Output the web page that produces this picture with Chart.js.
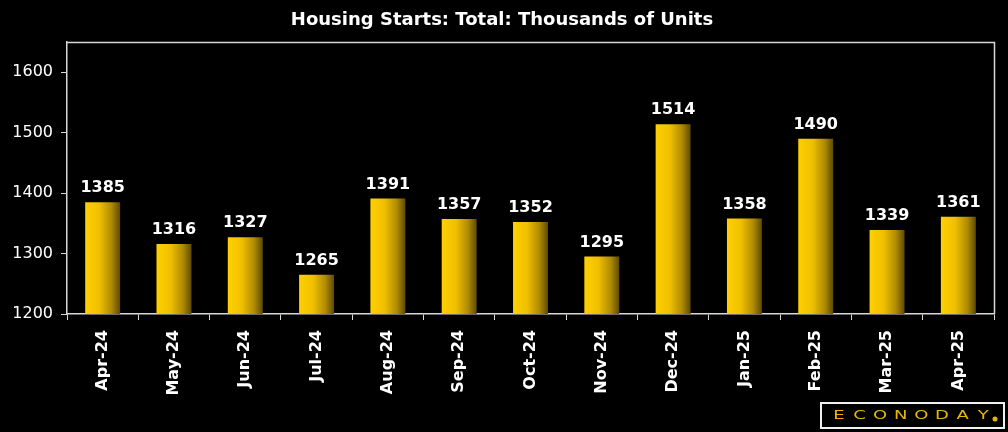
<!DOCTYPE html>
<html>
<head>
<meta charset="utf-8">
<script src="https://cdn.jsdelivr.net/npm/chart.js@4.4.1/dist/chart.umd.min.js"></script>
<style>
  html, body { margin: 0; padding: 0; background: #000; }
  #wrap { width: 1008px; height: 432px; position: relative; }
</style>
</head>
<body>
<div id="wrap"><canvas id="barchart" width="1008" height="432"></canvas></div>
<script>
var months = ['Apr-24', 'May-24', 'Jun-24', 'Jul-24', 'Aug-24', 'Sep-24', 'Oct-24',
              'Nov-24', 'Dec-24', 'Jan-25', 'Feb-25', 'Mar-25', 'Apr-25'];
var starts = [1385, 1316, 1327, 1265, 1391, 1357, 1352, 1295, 1514, 1358, 1490, 1339, 1361];
var yTicks = [1200, 1300, 1400, 1500, 1600];
var title = 'Housing Starts: Total: Thousands of Units';

var FONT = '"DejaVu Sans", sans-serif';
var LINE = '#d8d8d8';

function barFill(c) {
  var chart = c.chart;
  var xs = chart.scales.x;
  if (!xs || !chart.chartArea) return '#e8b800';
  var cx = xs.getPixelForValue(c.dataIndex);
  var half = (xs.width / months.length) * 0.49 / 2;
  var g = chart.ctx.createLinearGradient(cx - half, 0, cx + half, 0);
  g.addColorStop(0, '#ffd000');
  g.addColorStop(0.4, '#f0c000');
  g.addColorStop(0.75, '#b08c00');
  g.addColorStop(1, '#5e4b00');
  return g;
}

var extras = {
  id: 'extras',
  afterDraw: function(chart) {
    var ctx = chart.ctx, a = chart.chartArea;
    ctx.save();
    // frame top + right
    ctx.strokeStyle = LINE;
    ctx.lineWidth = 1.5;
    ctx.beginPath();
    ctx.moveTo(a.left, a.top + 0.5);
    ctx.lineTo(a.right + 0.5, a.top + 0.5);
    ctx.lineTo(a.right + 0.5, a.bottom);
    ctx.stroke();

    // title
    ctx.fillStyle = '#fff';
    ctx.font = 'bold 18px ' + FONT;
    ctx.textAlign = 'center';
    ctx.textBaseline = 'middle';
    ctx.fillText(title, 502, 20);

    // value labels
    var meta = chart.getDatasetMeta(0);
    ctx.font = 'bold 16px ' + FONT;
    ctx.textBaseline = 'bottom';
    meta.data.forEach(function(bar, i) {
      ctx.fillText(String(starts[i]), bar.x, bar.y - 6);
    });

    // logo
    ctx.strokeStyle = '#f0f0f0';
    ctx.lineWidth = 2;
    ctx.strokeRect(821, 403, 183, 25);
    ctx.fillStyle = '#e8b800';
    ctx.font = '12px ' + FONT;
    ctx.textAlign = 'center';
    ctx.textBaseline = 'middle';
    var word = 'ECONODAY';
    for (var k = 0; k < word.length; k++) {
      ctx.save();
      ctx.translate(839 + k * 20.6, 416);
      ctx.scale(1.5, 1);
      ctx.fillText(word[k], 0, 0);
      ctx.restore();
    }
    ctx.beginPath();
    ctx.arc(995, 419, 2.5, 0, Math.PI * 2);
    ctx.fill();
    ctx.restore();
  }
};

var ctx = document.getElementById('barchart');
var barGraph = new Chart(ctx, {
  type: 'bar',
  data: {
    labels: months,
    datasets: [{
      label: 'Housing Starts',
      data: starts,
      backgroundColor: barFill,
      borderWidth: 0,
      categoryPercentage: 1,
      barPercentage: 0.49
    }]
  },
  options: {
    responsive: false,
    animation: false,
    events: [],
    layout: { padding: { top: 42, right: 14, left: 0, bottom: 0 } },
    plugins: { legend: { display: false }, tooltip: { enabled: false } },
    scales: {
      x: {
        grid: { display: true, drawOnChartArea: false, offset: true, color: LINE, tickLength: 6 },
        border: { display: true, color: LINE, width: 1.5 },
        ticks: {
          color: '#fff', minRotation: 90, maxRotation: 90, padding: 10,
          font: { family: FONT, size: 16, weight: 'bold' }
        },
        afterFit: function(s) { s.height = 118; }
      },
      y: {
        min: 1200, max: 1650,
        afterBuildTicks: function(s) { s.ticks = yTicks.map(function(v) { return { value: v }; }); },
        grid: { display: true, drawOnChartArea: false, color: LINE, tickLength: 6 },
        border: { display: true, color: LINE, width: 1.5 },
        ticks: {
          color: '#fff', padding: 8, font: { family: FONT, size: 16 },
          callback: function(v) { return String(v); }
        },
        afterFit: function(s) { s.width = 67; }
      }
    }
  },
  plugins: [extras]
});
</script>
</body>
</html>
